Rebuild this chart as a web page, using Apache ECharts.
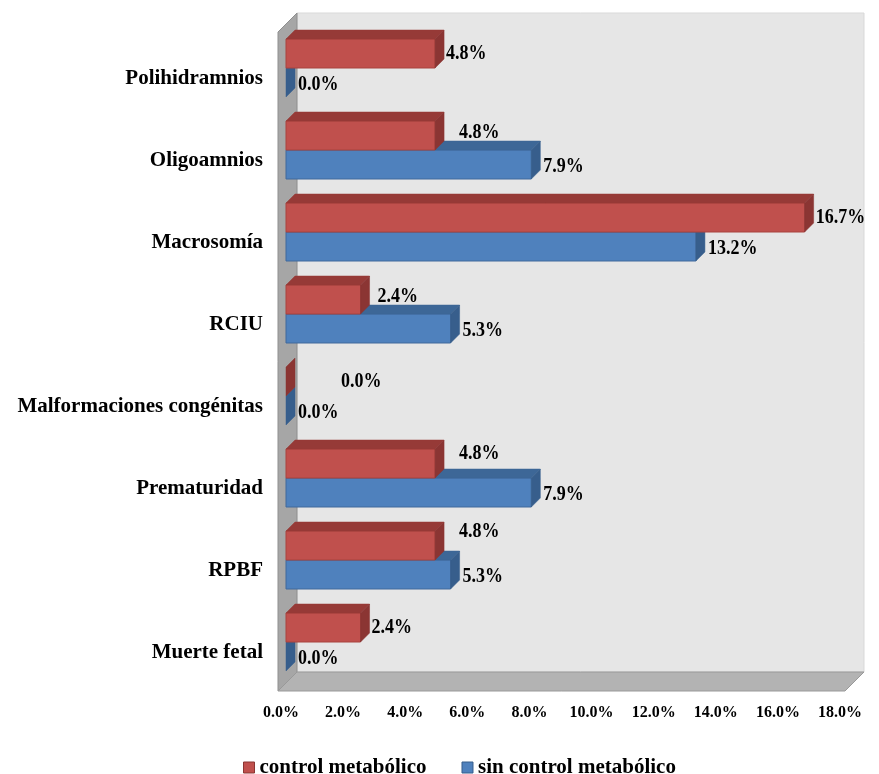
<!DOCTYPE html>
<html>
<head>
<meta charset="utf-8">
<title>Complicaciones fetales según control metabólico</title>
<script src="https://cdn.jsdelivr.net/npm/echarts/dist/echarts.min.js"></script>
<style>
  html, body { margin: 0; padding: 0; background: #ffffff; }
  #chart { width: 879px; height: 774px; }
</style>
</head>
<body>
<div id="chart"></div>
<script>
// Categories, top to bottom
const categories = [
  'Polihidramnios',
  'Oligoamnios',
  'Macrosomía',
  'RCIU',
  'Malformaciones congénitas',
  'Prematuridad',
  'RPBF',
  'Muerte fetal'
];

// Percentages per group
const controlMetabolico = [4.8, 4.8, 16.7, 2.4, 0.0, 4.8, 4.8, 2.4];
const sinControlMetabolico = [0.0, 7.9, 13.2, 5.3, 0.0, 7.9, 5.3, 0.0];

// Value axis ticks
const axisMin = 0;
const axisMax = 18;
const axisStep = 2;

// Label nudges for the red series (dx, dy in px) so labels avoid the blue bars
const redLabelNudge = [[0, 0], [13, -3], [0, 0], [6, -3], [44, 0], [13, -10], [13, -14], [0, 0]];

const FONT = "'Liberation Serif', 'Times New Roman', serif";
const DEPTH = 9;       // depth of the 3D bar extrusion
const BAR_H = 29;      // thickness of each bar

const palette = {
  red:  { front: '#c0504d', top: '#963a37', side: '#8b3533', edge: '#a8423f' },
  blue: { front: '#4f81bd', top: '#3d6797', side: '#375e8c', edge: '#40699b' }
};

function fmt(v) { return v.toFixed(1) + '%'; }

function makeBarRenderer(colors, upper, nudges) {
  return function (params, api) {
    const value = api.value(0);
    const cat = api.value(1);
    const p0 = api.coord([0, cat]);
    const p1 = api.coord([value, cat]);
    const x0 = p0[0];
    const x1 = p1[0];
    const yc = p0[1];
    const yTop = upper ? yc - BAR_H : yc;
    const yBot = upper ? yc : yc + BAR_H;
    const d = DEPTH;
    const children = [];
    if (x1 > x0) {
      children.push({
        type: 'rect',
        shape: { x: x0, y: yTop, width: x1 - x0, height: yBot - yTop },
        style: { fill: colors.front, stroke: colors.edge, lineWidth: 1 }
      });
      children.push({
        type: 'polygon',
        shape: { points: [[x0, yTop], [x0 + d, yTop - d], [x1 + d, yTop - d], [x1, yTop]] },
        style: { fill: colors.top, stroke: colors.top, lineWidth: 0.5 }
      });
    }
    children.push({
      type: 'polygon',
      shape: { points: [[x1, yTop], [x1 + d, yTop - d], [x1 + d, yBot - d], [x1, yBot]] },
      style: { fill: colors.side, stroke: colors.side, lineWidth: 0.5 }
    });
    const n = nudges ? nudges[params.dataIndex] : [1, 2];
    const tx = x1 + d + 2 + n[0];
    const ty = (yTop + yBot) / 2 + n[1];
    children.push({
      type: 'text',
      x: tx,
      y: ty,
      scaleY: 1.2,
      style: {
        text: fmt(value),
        x: 0,
        y: 0,
        align: 'left',
        verticalAlign: 'middle',
        font: 'bold 18px ' + FONT,
        fill: '#000000'
      }
    });
    return { type: 'group', children: children };
  };
}

// Back wall, side wall and floor of the 3D box, built from the grid rectangle
function renderWalls(params, api) {
  const cs = params.coordSys;
  const X0 = cs.x;
  const X1 = cs.x + cs.width + 8;
  const Y0 = cs.y - 3;
  const Y1 = cs.y + cs.height;
  const b = 11;  // offset of the back plane
  const f = 8;   // offset of the front plane
  return {
    type: 'group',
    children: [
      {
        type: 'rect',
        shape: { x: X0 + b, y: Y0 - b, width: X1 - X0, height: Y1 - Y0 },
        style: { fill: '#e6e6e6', stroke: '#d9d9d9', lineWidth: 1 }
      },
      {
        type: 'polygon',
        shape: { points: [[X0 - f, Y0 + f], [X0 + b, Y0 - b], [X0 + b, Y1 - b], [X0 - f, Y1 + f]] },
        style: { fill: '#a6a6a6', stroke: '#8f8f8f', lineWidth: 1 }
      },
      {
        type: 'polygon',
        shape: { points: [[X0 - f, Y1 + f], [X0 + b, Y1 - b], [X1 + b, Y1 - b], [X1 - f, Y1 + f]] },
        style: { fill: '#b3b3b3', stroke: '#999999', lineWidth: 1 }
      }
    ]
  };
}

const chart = echarts.init(document.getElementById('chart'), null, { renderer: 'canvas' });

chart.setOption({
  backgroundColor: '#ffffff',
  animation: false,
  grid: { left: 286, top: 27, width: 559, height: 656, containLabel: false },
  legend: {
    left: 238,
    top: 752,
    icon: 'rect',
    itemWidth: 11,
    itemHeight: 11,
    itemGap: 35,
    textStyle: { fontFamily: FONT, fontWeight: 'bold', fontSize: 21, color: '#000000' },
    data: [
      { name: 'control metabólico', itemStyle: { color: palette.red.front, borderColor: palette.red.side, borderWidth: 1 } },
      { name: 'sin control metabólico', itemStyle: { color: palette.blue.front, borderColor: palette.blue.side, borderWidth: 1 } }
    ]
  },
  xAxis: {
    type: 'value',
    min: axisMin,
    max: axisMax,
    interval: axisStep,
    axisLine: { show: false },
    axisTick: { show: false },
    splitLine: { show: false },
    axisLabel: {
      margin: 22,
      padding: [0, 10, 0, 0],
      fontFamily: FONT,
      fontWeight: 'bold',
      fontSize: 16,
      color: '#000000',
      formatter: function (v) { return fmt(v); }
    }
  },
  yAxis: {
    type: 'category',
    inverse: true,
    data: categories,
    axisLine: { show: false },
    axisTick: { show: false },
    splitLine: { show: false },
    axisLabel: {
      margin: 23,
      verticalAlign: 'top',
      fontFamily: FONT,
      fontWeight: 'bold',
      fontSize: 21,
      color: '#000000'
    }
  },
  series: [
    {
      name: 'walls',
      type: 'custom',
      z: 1,
      silent: true,
      clip: false,
      renderItem: renderWalls,
      data: [[0, 0]],
      encode: { x: 0, y: 1 }
    },
    {
      name: 'control metabólico',
      type: 'custom',
      z: 4,
      clip: false,
      itemStyle: { color: palette.red.front, borderColor: palette.red.side },
      renderItem: makeBarRenderer(palette.red, true, redLabelNudge),
      encode: { x: 0, y: 1 },
      data: controlMetabolico.map(function (v, i) { return [v, i]; })
    },
    {
      name: 'sin control metabólico',
      type: 'custom',
      z: 3,
      clip: false,
      itemStyle: { color: palette.blue.front, borderColor: palette.blue.side },
      renderItem: makeBarRenderer(palette.blue, false, null),
      encode: { x: 0, y: 1 },
      data: sinControlMetabolico.map(function (v, i) { return [v, i]; })
    }
  ]
});
</script>
</body>
</html>
